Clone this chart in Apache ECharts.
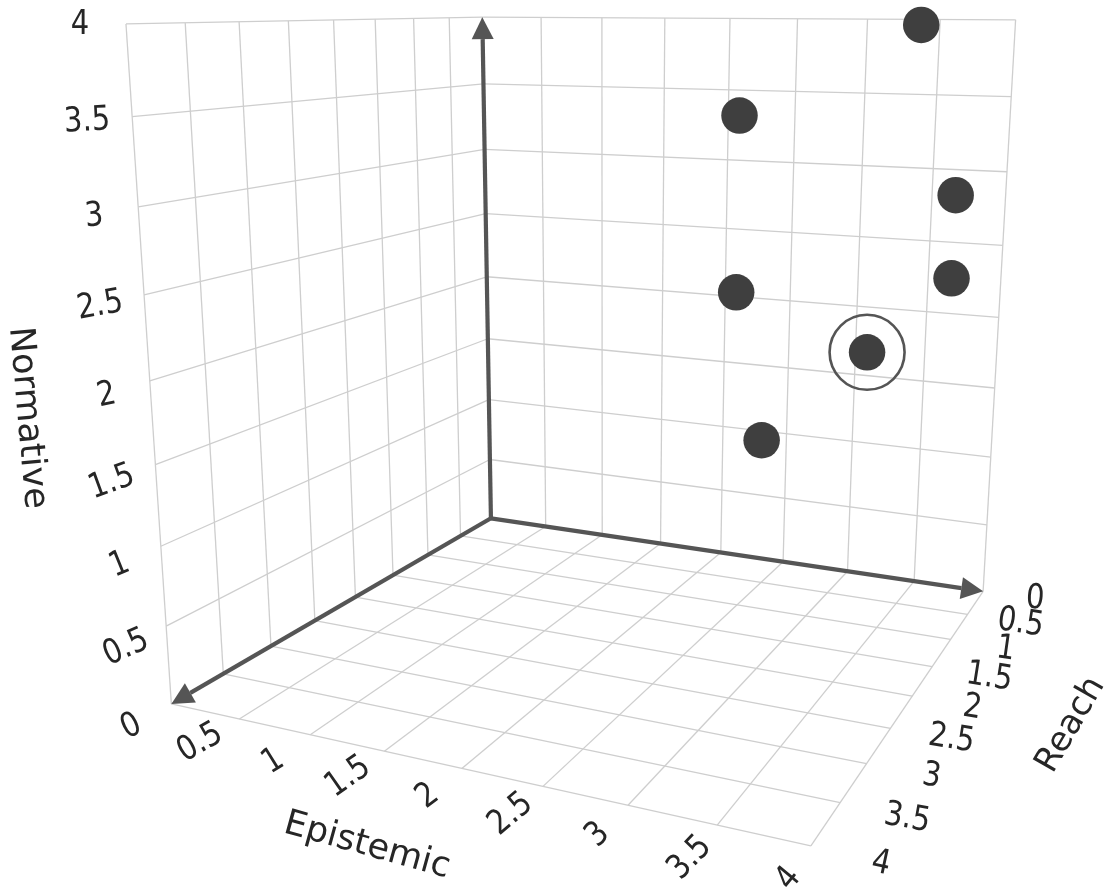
<!DOCTYPE html><html><head><meta charset="utf-8"><style>html,body{margin:0;background:#fff}#c{width:1111px;height:893px}</style></head><body><div id="c"></div>
<script src="https://cdn.jsdelivr.net/npm/echarts@6/dist/echarts.min.js"></script>
<script>
// ---- chart values ----
const tickValues = [0, 0.5, 1, 1.5, 2, 2.5, 3, 3.5, 4];
const tickLabels = ['0', '0.5', '1', '1.5', '2', '2.5', '3', '3.5', '4'];
const epistemic = [4, 3, 4, 4, 3, 3.5, 3];
const reach     = [2.5, 2.5, 1.5, 1.5, 2.5, 1.5, 2];
const normative = [4, 3.5, 3, 2.5, 2.5, 2, 1.5];
const highlightedIndex = [5];
const axisNames = ['Epistemic', 'Reach', 'Normative'];
const axisMax = 4;

// ---- perspective camera of the 3D scene ----
const cam = [92.68249,-91.18926,-10.54491,490.9320, 0.001030661,0.003773398,-125.5835,518.3, -0.03088413,-0.06592133,-0.01739341];
function project(e, r, n) {
  const w = cam[8]*e + cam[9]*r + cam[10]*n + 1;
  return [(cam[0]*e + cam[1]*r + cam[2]*n + cam[3]) / w, (cam[4]*e + cam[5]*r + cam[6]*n + cam[7]) / w];
}

// ---- label layout: [dx, dy, rotation in degrees] per tick ----
const normLayout = [[-40,23,26],[-40,22,24],[-41,19,22],[-43.5,18,20],[-43,15,12],[-44,11,10],[-44,10,5],[-45,5,3],[-46,1,0]];
const epiLayout  = [null,[-39,24,30],[-37,27,32],[-36,26,35],[-34,28,37],[-32,28,40],[-30,30,43],[-27,33,46],[-22,33,50]];
const reachLayout= [[52,8,-4],[53,9,-9],[55,10,-8],[57,11,-9],[60,12,-9],[61,11,-9],[65,13,-9],[67,16,-10],[70,18,-12]];

// ---- grid segments on the two walls and the floor ----
const gridRows = [];
tickValues.forEach(t => {
  gridRows.push([0,0,t, 0,axisMax,t], [0,t,0, 0,t,axisMax]);
  gridRows.push([0,0,t, axisMax,0,t], [t,0,0, t,0,axisMax]);
  gridRows.push([t,0,0, t,axisMax,0], [0,t,0, axisMax,t,0]);
});
const axisRows = [[axisMax,0,0],[0,axisMax,0],[0,0,axisMax]];

const labelRows = [];
tickValues.forEach((t,i) => {
  let p = project(0,axisMax,t), l = normLayout[i];
  labelRows.push([p[0]+l[0], p[1]+l[1], l[2], tickLabels[i]]);
  if (epiLayout[i]) { p = project(t,axisMax,0); l = epiLayout[i]; labelRows.push([p[0]+l[0], p[1]+l[1], l[2], tickLabels[i]]); }
  p = project(axisMax,t,0); l = reachLayout[i];
  labelRows.push([p[0]+l[0], p[1]+l[1], l[2], tickLabels[i]]);
});

const FONT = '"DejaVu Sans", Verdana, sans-serif';
const INK = '#262626', GRID = '#cecece', AXIS = '#555555', DOT = '#3f3f3f';

const points = epistemic.map((e,i) => project(e, reach[i], normative[i]));
const ringed = highlightedIndex.map(i => points[i]);

const chart = echarts.init(document.getElementById('c'), null, {renderer:'canvas'});
chart.setOption({
  animation: false,
  backgroundColor: '#ffffff',
  grid: {left:0, right:0, top:0, bottom:0},
  xAxis: {type:'value', min:0, max:1111, show:false},
  yAxis: {type:'value', min:0, max:893, inverse:true, show:false},
  tooltip: {show:false},
  graphic: [
    {type:'text', x:27, y:418, rotation:-85*Math.PI/180, style:{text:axisNames[2], font:'35px '+FONT, fill:INK, align:'center', verticalAlign:'middle'}},
    {type:'text', x:367, y:846, rotation:-15.5*Math.PI/180, style:{text:axisNames[0], font:'35px '+FONT, fill:INK, align:'center', verticalAlign:'middle'}},
    {type:'text', x:1071, y:725, rotation:60*Math.PI/180, style:{text:axisNames[1], font:'34px '+FONT, fill:INK, align:'center', verticalAlign:'middle'}}
  ],
  series: [
    {type:'custom', z:1, silent:true, clip:false, data:gridRows,
      renderItem(params, api) {
        const a = project(api.value(0),api.value(1),api.value(2)), b = project(api.value(3),api.value(4),api.value(5));
        const p = api.coord(a), q = api.coord(b);
        return {type:'line', shape:{x1:p[0],y1:p[1],x2:q[0],y2:q[1]}, style:{stroke:GRID, lineWidth:1.3}};
      }},
    {type:'custom', z:2, silent:true, clip:false, data:axisRows,
      renderItem(params, api) {
        const o = api.coord(project(0,0,0)), t = api.coord(project(api.value(0),api.value(1),api.value(2)));
        const dx=t[0]-o[0], dy=t[1]-o[1], L=Math.hypot(dx,dy), ux=dx/L, uy=dy/L, hl=22, hw=11;
        const bx=t[0]-ux*hl, by=t[1]-uy*hl;
        return {type:'group', children:[
          {type:'line', shape:{x1:o[0],y1:o[1],x2:bx,y2:by}, style:{stroke:AXIS, lineWidth:4.2}},
          {type:'polygon', shape:{points:[[t[0],t[1]],[bx-uy*hw,by+ux*hw],[bx+uy*hw,by-ux*hw]]}, style:{fill:AXIS}}
        ]};
      }},
    {type:'scatter', z:3, silent:true, clip:false, symbol:'circle', symbolSize:36.5, itemStyle:{color:DOT, opacity:1}, data:points},
    {type:'scatter', z:4, silent:true, clip:false, symbol:'circle', symbolSize:75, itemStyle:{color:'rgba(0,0,0,0)', borderColor:'#555555', borderWidth:2.6, opacity:1}, data:ringed},
    {type:'custom', z:5, silent:true, clip:false, data:labelRows, dimensions:['x','y','rot',{name:'label',type:'ordinal'}],
      encode:{x:0,y:1},
      renderItem(params, api) {
        const row = labelRows[params.dataIndex], p = api.coord([row[0],row[1]]);
        return {type:'text', x:p[0], y:p[1], rotation:row[2]*Math.PI/180, scaleY:1.18,
          style:{text:row[3], font:'29px '+FONT, fill:INK, align:'center', verticalAlign:'middle'}};
      }}
  ]
});
</script></body></html>
